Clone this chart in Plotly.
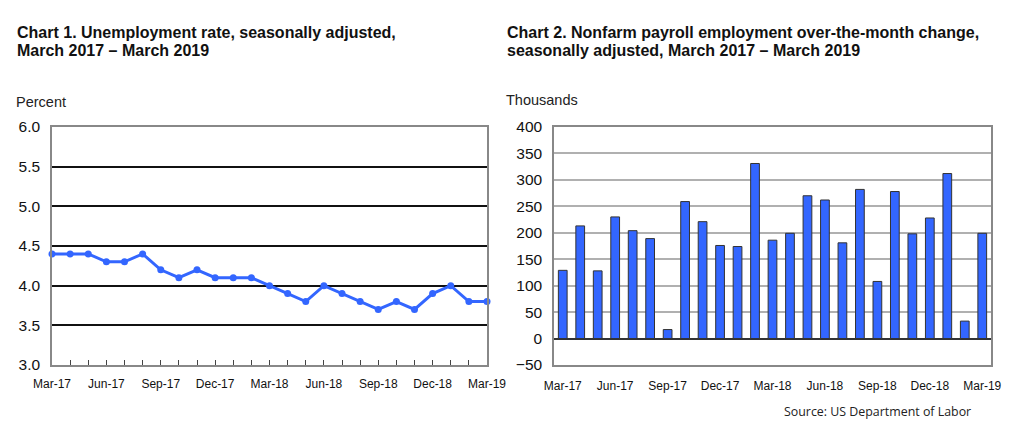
import plotly.graph_objects as go

OFF = 8  # page body margin
W, H = 1024 - OFF, 433 - OFF

months = ["Mar-17", "Apr-17", "May-17", "Jun-17", "Jul-17", "Aug-17", "Sep-17", "Oct-17",
          "Nov-17", "Dec-17", "Jan-18", "Feb-18", "Mar-18", "Apr-18", "May-18", "Jun-18",
          "Jul-18", "Aug-18", "Sep-18", "Oct-18", "Nov-18", "Dec-18", "Jan-19", "Feb-19", "Mar-19"]
unemployment = [4.4, 4.4, 4.4, 4.3, 4.3, 4.4, 4.2, 4.1, 4.2, 4.1, 4.1, 4.1, 4.0, 3.9, 3.8,
                4.0, 3.9, 3.8, 3.7, 3.8, 3.7, 3.9, 4.0, 3.8, 3.8]
payroll = [129, 213, 128, 230, 204, 189, 17, 259, 221, 176, 174, 331, 186, 199, 270,
           262, 181, 282, 108, 278, 198, 228, 312, 33, 199]
label_months = months[::3]

BLUE = "#3366FF"
FONT = "Liberation Sans, Arial, sans-serif"

def px_x(p):
    return (p - OFF) / W

def px_y(p):
    return 1 - (p - OFF) / H

fig = go.Figure()

idx = list(range(len(months)))
fig.add_trace(go.Scatter(
    x=idx, y=unemployment, mode="lines+markers",
    line=dict(color=BLUE, width=3), marker=dict(color=BLUE, size=7),
    xaxis="x", yaxis="y", showlegend=False, cliponaxis=False))

fig.add_trace(go.Bar(
    x=months, y=payroll, width=0.5,
    marker=dict(color=BLUE, line=dict(color="#333333", width=1)),
    xaxis="x2", yaxis="y2", showlegend=False))

fig.update_layout(
    width=W, height=H, margin=dict(l=0, r=0, t=0, b=0, autoexpand=False),
    paper_bgcolor="white", plot_bgcolor="white",
    font=dict(family=FONT, color="#111111"),
    xaxis=dict(domain=[px_x(52), px_x(487)], range=[0, 24], automargin=False,
               tickmode="array", tickvals=idx,
               ticktext=[m if i % 3 == 0 else "" for i, m in enumerate(months)],
               ticks="inside", ticklen=5, tickcolor="#444444",
               showgrid=False, zeroline=False, showline=True, linecolor="#888888",
               linewidth=1.5, mirror=True, tickfont=dict(size=12), tickangle=0,
               ticklabelstandoff=7),
    yaxis=dict(domain=[px_y(365), px_y(127)], range=[3, 6], dtick=0.5, automargin=False,
               tickformat=".1f", showgrid=True, gridcolor="#111111", gridwidth=1.5,
               zeroline=False, showline=True, linecolor="#888888", linewidth=1.5,
               mirror=True, ticks="", tickfont=dict(size=15.5), ticklabelstandoff=7),
    xaxis2=dict(domain=[px_x(554), px_x(991)], type="category", range=[-0.5, 24.5],
                automargin=False,
                tickmode="array", tickvals=label_months, ticktext=label_months,
                ticks="", showgrid=False, zeroline=False, showline=True,
                linecolor="#888888", linewidth=1.5, mirror=True,
                tickfont=dict(size=12), tickangle=0, anchor="y2", ticklabelstandoff=9),
    yaxis2=dict(domain=[px_y(365), px_y(127)], range=[-50, 400], dtick=50, automargin=False,
                showgrid=True, gridcolor="#b0b0b0", gridwidth=1.5,
                zeroline=True, zerolinecolor="#333333", zerolinewidth=1.5,
                showline=True, linecolor="#888888", linewidth=1.5, mirror=True,
                ticks="", tickfont=dict(size=15.5), ticklabelstandoff=7, anchor="x2"),
)

TS = 16
annotations = [
    dict(text="<b>Chart 1. Unemployment rate, seasonally adjusted,</b>",
         x=px_x(15), y=px_y(32), font=dict(size=TS, color="#111111")),
    dict(text="<b>March 2017 – March 2019</b>",
         x=px_x(15), y=px_y(50), font=dict(size=TS, color="#111111")),
    dict(text="<b>Chart 2. Nonfarm payroll employment over-the-month change,</b>",
         x=px_x(505), y=px_y(32), font=dict(size=TS, color="#111111")),
    dict(text="<b>seasonally adjusted, March 2017 – March 2019</b>",
         x=px_x(505), y=px_y(50), font=dict(size=TS, color="#111111")),
    dict(text="Percent", x=px_x(14), y=px_y(102), font=dict(size=14.5, color="#222222")),
    dict(text="Thousands", x=px_x(504), y=px_y(100), font=dict(size=14.5, color="#222222")),
    dict(text="Source: US Department of Labor", x=px_x(782), y=px_y(411),
         font=dict(size=12.4, color="#222222", family="Open Sans, sans-serif")),
]
for a in annotations:
    a.update(xref="paper", yref="paper", showarrow=False, xanchor="left",
             yanchor="middle", align="left")
fig.update_layout(annotations=annotations)

fig.write_html("out.html")
